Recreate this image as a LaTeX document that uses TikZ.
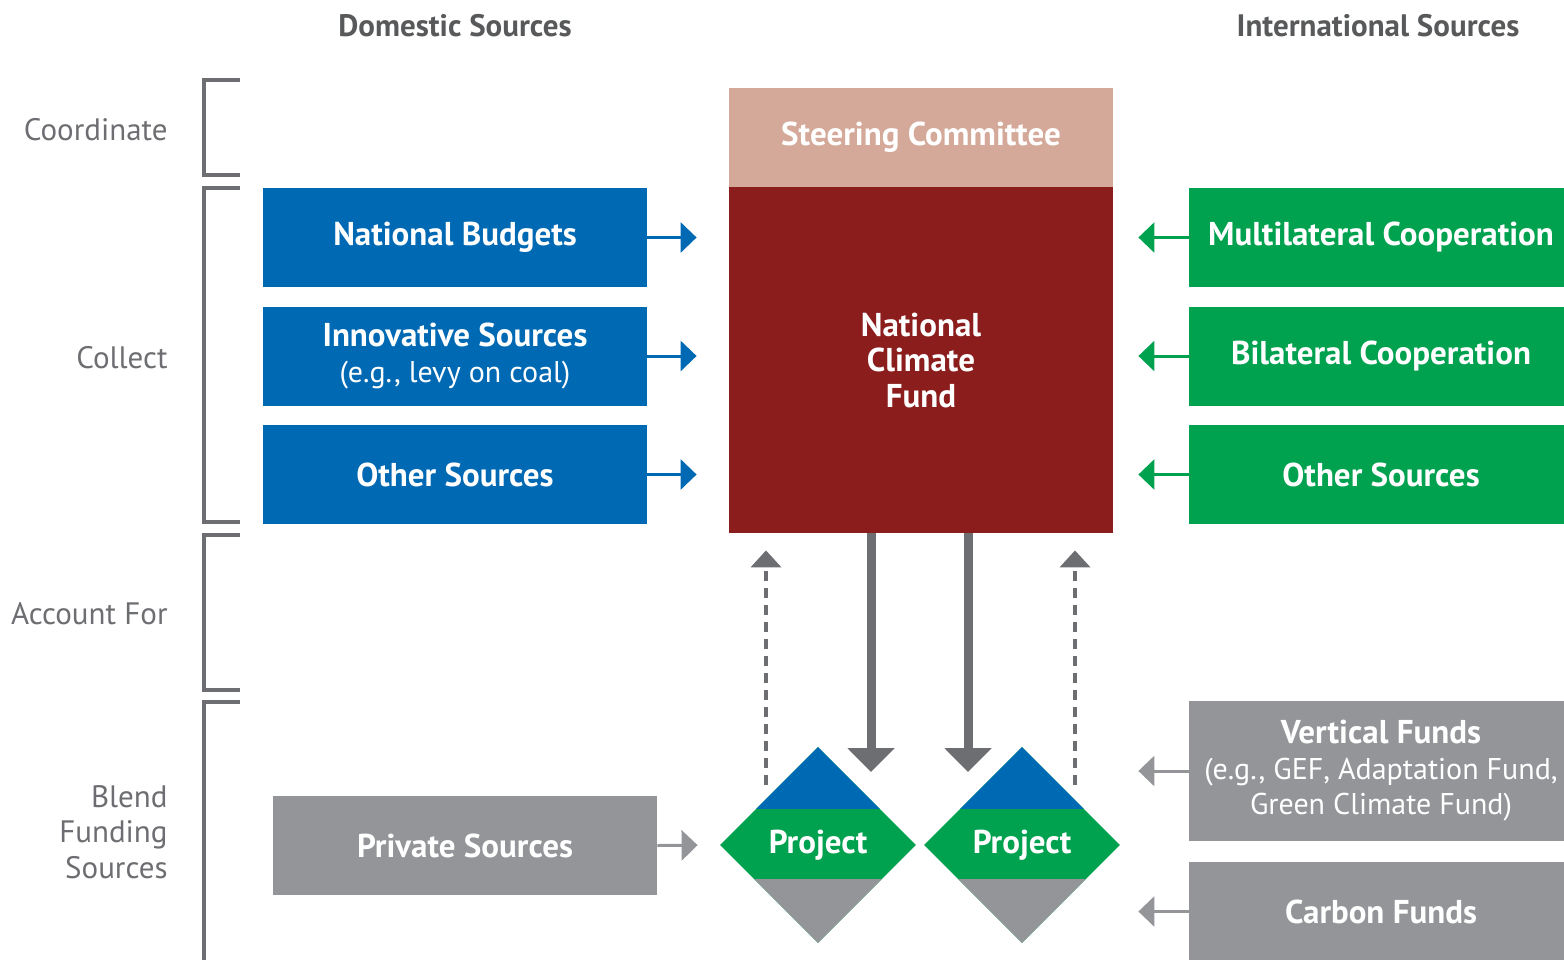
\documentclass[tikz,border=0pt]{standalone}
\usepackage{fontspec}
\setmainfont{PT Sans}
\usetikzlibrary{shapes.geometric,arrows.meta}
\definecolor{fundblue}{HTML}{0069B4}
\definecolor{fundgreen}{HTML}{00A14F}
\definecolor{fundred}{HTML}{8B1D1D}
\definecolor{steerpink}{HTML}{D4A99A}
\definecolor{boxgray}{HTML}{939598}
\definecolor{arrowgray}{HTML}{6D6E71}
\definecolor{headgray}{HTML}{58595B}
\newcommand{\subline}{\mdseries\fontsize{15}{17.75}\selectfont}
\begin{document}
\begin{tikzpicture}[x=0.5pt,y=-0.5pt]
    \tikzstyle{src}=[rectangle,minimum width=192pt,minimum height=49.5pt,inner sep=0pt,text=white,align=center,font=\bfseries\fontsize{16.5}{17.75}\selectfont]
    \tikzstyle{lbl}=[anchor=east,align=right,inner sep=0pt,text=arrowgray,font=\fontsize{15.5}{17.75}\selectfont]
    \tikzstyle{head}=[text=headgray,font=\bfseries\fontsize{15.5}{18}\selectfont]
    \tikzstyle{project}=[diamond,aspect=1,minimum width=98pt,minimum height=98pt,inner sep=0pt,fill=fundgreen,text=white,font=\bfseries\fontsize{16.5}{17.75}\selectfont,
        path picture={\fill[fundblue] (path picture bounding box.north west) rectangle ([yshift=-31pt]path picture bounding box.north east);
                      \fill[boxgray] ([yshift=32pt]path picture bounding box.south west) rectangle (path picture bounding box.south east);}]
    \tikzstyle{feed}=[line width=1.5pt,-{Triangle[length=8pt,width=15pt]}]
    \tikzstyle{drop}=[line width=4.5pt,arrowgray,-{Triangle[length=12pt,width=23pt]}]
    \tikzstyle{report}=[line width=2pt,arrowgray,dash pattern=on 5pt off 3.5pt,-{Triangle[length=8.5pt,width=15pt]}]
    \tikzstyle{bracket}=[line width=2pt,arrowgray]

    \clip (0,0) rectangle (1564,959);

    % headings and row labels
    \node[head] (dom) at (455,26) {Domestic Sources};
    \node[head] (int) at (1378,26) {International Sources};
    \node[lbl] (coord) at (168,130) {Coordinate};
    \node[lbl] (coll) at (168,358) {Collect};
    \node[lbl] (acc) at (168,614) {Account For};
    \node[lbl] (blend) at (168,832) {Blend\\Funding\\Sources};

    \draw[bracket] (240,80) -| (204,175) -- (240,175);
    \draw[bracket] (240,188) -| (204,522) -- (240,522);
    \draw[bracket] (240,535) -| (204,690) -- (240,690);
    \draw[bracket] (240,702) -| (204,975);

    % fund in the middle
    \node[src,fill=steerpink] (sc) at (921,137.5) {Steering Committee};
    \node[src,fill=fundred,minimum height=173pt] (ncf) at (921,360) {National\\Climate\\Fund};

    % domestic
    \node[src,fill=fundblue] (nb) at (455,237.5) {National Budgets};
    \node[src,fill=fundblue] (is) at (455,356) {Innovative Sources\\{\subline (e.g., levy on coal)}};
    \node[src,fill=fundblue] (dos) at (455,474.5) {Other Sources};
    \node[src,fill=boxgray] (ps) at (465,845.5) {Private Sources};

    % international
    \node[src,fill=fundgreen] (mc) at (1381,237.5) {Multilateral Cooperation};
    \node[src,fill=fundgreen] (bc) at (1381,356) {Bilateral Cooperation};
    \node[src,fill=fundgreen] (ios) at (1381,474.5) {Other Sources};
    \node[src,fill=boxgray,minimum height=70pt] (vf) at (1381,771) {Vertical Funds\\{\subline (e.g., GEF, Adaptation Fund,}\\{\subline Green Climate Fund)}};
    \node[src,fill=boxgray] (cf) at (1381,911.5) {Carbon Funds};

    % projects
    \node[project] (p1) at (818,845) {Project};
    \node[project] (p2) at (1022,845) {Project};

    \foreach \s in {nb,is,dos}
        \draw[feed,fundblue,shorten >=16pt] (\s.east) -- (\s.east -| ncf.west);
    \foreach \s in {mc,bc,ios}
        \draw[feed,fundgreen,shorten >=12.5pt] (\s.west) -- (\s.west -| ncf.east);
    \foreach \s in {vf,cf}
        \draw[feed,boxgray,shorten >=12.5pt] (\s.west) -- (\s.west -| ncf.east);
    \draw[feed,boxgray,shorten >=11pt] (ps.east) -- (p1.west);

    \coordinate (d1) at (871,772);
    \coordinate (d2) at (968,772);
    \coordinate (u1) at (766,785);
    \coordinate (u2) at (1075,785);
    \draw[drop] (ncf.south -| d1) -- (d1);
    \draw[drop] (ncf.south -| d2) -- (d2);
    \draw[report,shorten >=8.5pt] (u1) -- (u1 |- ncf.south);
    \draw[report,shorten >=8.5pt] (u2) -- (u2 |- ncf.south);
\end{tikzpicture}
\end{document}
